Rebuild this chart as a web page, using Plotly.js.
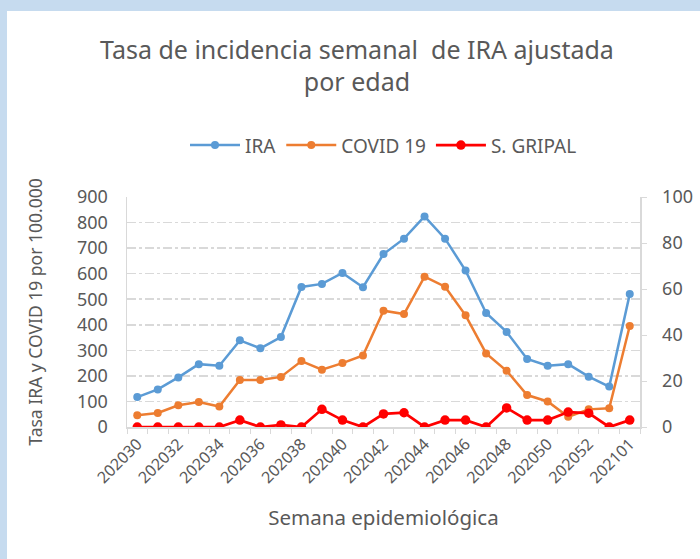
<!DOCTYPE html>
<html>
<head>
<meta charset="utf-8">
<script src="https://cdn.plot.ly/plotly-3.0.1.min.js"></script>
<style>
  html, body { margin: 0; padding: 0; background: #c6dbef; width: 700px; height: 559px; overflow: hidden; }
  #chart { position: absolute; left: 7px; top: 11px; width: 693px; height: 548px; background: #ffffff; }
</style>
</head>
<body>
<div id="chart"></div>
<script>
const weeks = ["202030","202031","202032","202033","202034","202035","202036","202037","202038","202039",
               "202040","202041","202042","202043","202044","202045","202046","202047","202048","202049",
               "202050","202051","202052","202053","202101"];
const ira = [117, 147, 194, 246, 240, 339, 308, 352, 548, 560, 603, 547, 677, 737, 824, 737, 612, 446, 372, 266, 240, 246, 197, 158, 520];
const covid = [46, 55, 85, 98, 80, 184, 184, 196, 258, 224, 250, 280, 455, 442, 588, 549, 437, 288, 220, 125, 100, 40, 69, 73, 395];
const gripal = [0, 0, 0, 0, 0, 3.0, 0, 0.9, 0, 7.7, 3.0, 0, 5.7, 6.2, 0, 3.0, 3.0, 0, 8.3, 3.0, 3.0, 6.5, 6.0, 0, 3.0];

const FONT = "Noto Sans, Open Sans, sans-serif";
const GRAY = "#595959";

const traces = [
  { x: weeks, y: ira, name: "IRA", type: "scatter", mode: "lines+markers",
    line: { color: "#5b9bd5", width: 2.5 }, marker: { color: "#5b9bd5", size: 8 } },
  { x: weeks, y: covid, name: "COVID 19", type: "scatter", mode: "lines+markers",
    line: { color: "#ed7d31", width: 2.5 }, marker: { color: "#ed7d31", size: 8 } },
  { x: weeks, y: gripal, name: "S. GRIPAL", type: "scatter", mode: "lines+markers", yaxis: "y2",
    line: { color: "#ff0000", width: 2.75 }, marker: { color: "#ff0000", size: 9.5 } }
];

const layout = {
  width: 693, height: 548,
  paper_bgcolor: "#ffffff", plot_bgcolor: "#ffffff",
  margin: { l: 120, r: 60, t: 186, b: 132 },
  font: { family: FONT, color: GRAY },
  title: { text: "Tasa de incidencia semanal  de IRA ajustada<br>por edad",
           font: { size: 25, color: GRAY, family: FONT },
           x: 0.505, xanchor: "center", yref: "container", y: 0.913, yanchor: "top" },
  showlegend: true,
  legend: { orientation: "h", x: 0.5, xanchor: "center", y: 1.225, yanchor: "middle",
            font: { size: 19, color: GRAY }, traceorder: "normal", itemwidth: 50 },
  xaxis: {
    type: "category", range: [-0.5, 24.5],
    tickson: "boundaries", ticks: "outside", ticklen: 5, tickcolor: "#d9d9d9",
    dtick: 1, ticklabelstep: 2, tickangle: -45,
    tickfont: { size: 16, color: GRAY },
    showline: true, linecolor: "#d9d9d9", linewidth: 1.5,
    showgrid: false, zeroline: false,
    title: { text: "Semana epidemiológica", font: { size: 20.5, color: GRAY }, standoff: 24 }
  },
  yaxis: {
    range: [0, 900], dtick: 100, tick0: 0,
    tickfont: { size: 18, color: GRAY }, ticklabelstandoff: 14,
    showline: true, linecolor: "#d9d9d9", linewidth: 1.5,
    showgrid: true, gridcolor: "#d9d9d9", gridwidth: 1.5, griddash: "dashdot",
    zeroline: false, ticks: "",
    title: { text: "Tasa IRA y COVID 19 por 100.000", font: { size: 17.5, color: GRAY }, standoff: 30 }
  },
  yaxis2: {
    range: [0, 100], dtick: 20, tick0: 0, overlaying: "y", side: "right",
    tickfont: { size: 18, color: GRAY }, ticklabelstandoff: 12,
    showline: true, linecolor: "#d9d9d9", linewidth: 1.5,
    ticks: "outside", ticklen: 5, tickcolor: "#d9d9d9",
    showgrid: false, zeroline: false
  }
};

Plotly.newPlot("chart", traces, layout, { displayModeBar: false, staticPlot: true });
</script>
</body>
</html>
